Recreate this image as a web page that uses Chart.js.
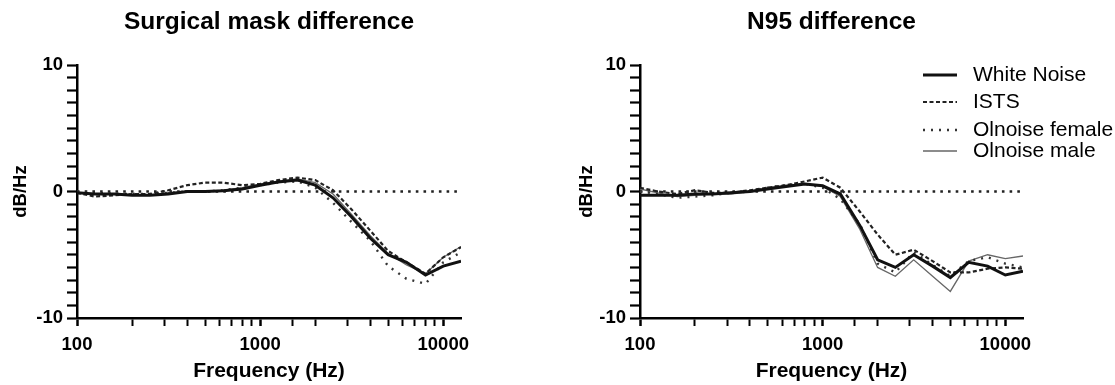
<!DOCTYPE html>
<html>
<head>
<meta charset="utf-8">
<script src="https://cdn.jsdelivr.net/npm/chart.js@4.4.1/dist/chart.umd.min.js"></script>
<style>
  body { margin: 0; background: #fff; }
  .panel { position: absolute; top: 0; height: 385px; }
  #left { left: 0; width: 557px; }
  #right { left: 557px; width: 558px; }
</style>
</head>
<body>
<div class="panel" id="left"><canvas id="chartLeft" width="557" height="385"></canvas></div>
<div class="panel" id="right"><canvas id="chartRight" width="558" height="385"></canvas></div>
<script>
// third-octave band centres (Hz)
var freqs = [100, 125, 160, 200, 250, 315, 400, 500, 630, 800, 1000, 1250, 1600, 2000, 2500, 3150, 4000, 5000, 6300, 8000, 10000, 12500];

var seriesNames = ['White Noise', 'ISTS', 'Olnoise female', 'Olnoise male'];

// surgical mask difference (dB/Hz)
var surgWhite  = [-0.1, -0.2, -0.2, -0.3, -0.3, -0.2, 0.0, 0.0, 0.05, 0.2, 0.5, 0.75, 0.9, 0.5, -0.5, -2.0, -3.7, -5.0, -5.6, -6.6, -5.9, -5.5];
var surgIsts   = [-0.1, -0.4, -0.3, -0.2, -0.2, 0.1, 0.5, 0.7, 0.7, 0.5, 0.6, 0.9, 1.1, 0.9, 0.1, -1.4, -3.1, -4.7, -5.6, -6.5, -5.2, -4.4];
var surgFemale = [0.0, -0.1, -0.2, -0.2, -0.2, -0.1, 0.0, 0.0, 0.1, 0.3, 0.5, 0.7, 0.8, 0.3, -0.9, -2.4, -3.9, -5.9, -6.9, -7.3, -5.6, -4.8];
var surgMale   = [-0.1, -0.2, -0.2, -0.3, -0.3, -0.1, 0.0, 0.0, 0.1, 0.3, 0.6, 0.8, 1.0, 0.7, -0.2, -1.8, -3.5, -4.9, -5.8, -6.5, -5.2, -4.35];

// N95 difference (dB/Hz)
var n95White  = [-0.3, -0.3, -0.3, -0.2, -0.2, -0.1, 0.0, 0.2, 0.4, 0.6, 0.45, -0.2, -2.7, -5.4, -6.0, -5.0, -5.9, -6.8, -5.6, -5.9, -6.6, -6.3];
var n95Ists   = [0.3, 0.0, -0.2, 0.1, -0.1, -0.1, 0.1, 0.3, 0.5, 0.8, 1.1, 0.3, -1.6, -3.4, -5.0, -4.6, -5.5, -6.4, -6.4, -6.1, -6.0, -6.1];
var n95Female = [0.0, -0.2, -0.5, -0.4, -0.3, -0.1, 0.0, 0.3, 0.5, 0.6, 0.3, -0.6, -2.6, -5.7, -6.4, -4.8, -5.8, -6.7, -5.5, -5.2, -5.7, -6.0];
var n95Male   = [0.2, -0.1, -0.4, -0.3, -0.2, -0.2, 0.0, 0.3, 0.5, 0.6, 0.4, -0.4, -3.0, -6.0, -6.7, -5.4, -6.7, -7.9, -5.5, -5.0, -5.3, -5.1];

var xTickLabels = [100, 1000, 10000];
var yTickLabels = [-10, 0, 10];
var xMin = 100, xMax = 12500;
var yMin = -10, yMax = 10;

var FONT = 'Liberation Sans, Arial, sans-serif';

function points(vals) {
  return freqs.map(function(f, i) { return { x: f, y: vals[i] }; });
}

function makeDatasets(white, ists, female, male) {
  return [
    { label: seriesNames[0], data: points(white), borderColor: '#111', borderWidth: 3, pointRadius: 0, tension: 0 },
    { label: seriesNames[1], data: points(ists), borderColor: '#222', borderWidth: 2.2, borderDash: [4, 2.5], pointRadius: 0, tension: 0 },
    { label: seriesNames[2], data: points(female), borderColor: '#333', borderWidth: 2.4, borderDash: [2, 6], pointRadius: 0, tension: 0 },
    { label: seriesNames[3], data: points(male), borderColor: '#666', borderWidth: 1.3, pointRadius: 0, tension: 0 },
    // zero reference line
    { label: 'zero', data: [{ x: xMin, y: 0 }, { x: xMax, y: 0 }], borderColor: '#222', borderWidth: 2.6, borderDash: [2.6, 5.1], pointRadius: 0, order: 10 }
  ];
}

// legend drawn inside the right panel
var lineLegend = {
  id: 'lineLegend',
  afterDraw: function(chart, args, opts) {
    if (!opts.show) return;
    var ctx = chart.ctx;
    ctx.save();
    ctx.font = '21px ' + FONT;
    ctx.textBaseline = 'middle';
    ctx.fillStyle = '#000';
    seriesNames.forEach(function(name, i) {
      var ds = chart.data.datasets[i];
      var y = opts.rows[i];
      ctx.beginPath();
      ctx.strokeStyle = ds.borderColor;
      ctx.lineWidth = ds.borderWidth;
      ctx.setLineDash(ds.borderDash || []);
      ctx.moveTo(opts.x, y);
      ctx.lineTo(opts.x + opts.len, y);
      ctx.stroke();
      ctx.setLineDash([]);
      ctx.fillText(name, opts.textX, y);
    });
    ctx.restore();
  }
};

function makeChart(id, title, sets, yWidth, rightPad, yTitlePad, legendOpts) {
  return new Chart(document.getElementById(id), {
    type: 'line',
    data: { datasets: sets },
    plugins: [lineLegend],
    options: {
      responsive: false,
      animation: false,
      layout: { padding: { left: 0, right: rightPad, top: 0, bottom: 0 } },
      plugins: {
        legend: { display: false },
        tooltip: { enabled: false },
        title: {
          display: true,
          text: title,
          fullSize: false,
          color: '#000',
          font: { family: FONT, size: 24.5, weight: 'bold' },
          padding: { top: 8, bottom: 27.6 }
        },
        lineLegend: legendOpts
      },
      scales: {
        x: {
          type: 'logarithmic',
          min: xMin,
          max: xMax,
          afterFit: function(s) { s.height = 67; },
          border: { color: '#000', width: 2.5 },
          grid: {
            drawOnChartArea: false,
            tickLength: 8,
            tickWidth: function(c) { return c.tick && xTickLabels.indexOf(Math.round(c.tick.value)) >= 0 ? 2.5 : 2; },
            tickColor: function(c) { return c.tick && c.tick.value >= xMax ? 'rgba(0,0,0,0)' : '#000'; }
          },
          ticks: {
            autoSkip: false,
            maxRotation: 0,
            color: '#000',
            padding: 8,
            font: { family: FONT, size: 18.5, weight: 'bold' },
            callback: function(v) { return xTickLabels.indexOf(Math.round(v)) >= 0 ? String(Math.round(v)) : ''; }
          },
          title: {
            display: true,
            text: 'Frequency (Hz)',
            color: '#000',
            font: { family: FONT, size: 21, weight: 'bold' },
            padding: { top: 0, bottom: 1.5 }
          }
        },
        y: {
          min: yMin,
          max: yMax,
          afterFit: function(s) { s.width = yWidth; },
          border: { color: '#000', width: 2.5 },
          grid: {
            drawOnChartArea: false,
            tickLength: 10,
            tickWidth: 2.2,
            tickColor: '#000'
          },
          ticks: {
            stepSize: 1,
            autoSkip: false,
            color: '#000',
            padding: 4,
            font: { family: FONT, size: 18.5, weight: 'bold' },
            callback: function(v) { return yTickLabels.indexOf(v) >= 0 ? String(v) : ''; }
          },
          title: {
            display: true,
            text: 'dB/Hz',
            color: '#000',
            font: { family: FONT, size: 18.5, weight: 'bold' },
            padding: { top: yTitlePad, bottom: 0 }
          }
        }
      }
    }
  });
}

makeChart('chartLeft', 'Surgical mask difference',
  makeDatasets(surgWhite, surgIsts, surgFemale, surgMale), 77, 96, 10, { show: false });

makeChart('chartRight', 'N95 difference',
  makeDatasets(n95White, n95Ists, n95Female, n95Male), 83, 92, 19,
  { show: true, x: 366, len: 34, textX: 416, rows: [75, 102, 130, 151] });
</script>
</body>
</html>
